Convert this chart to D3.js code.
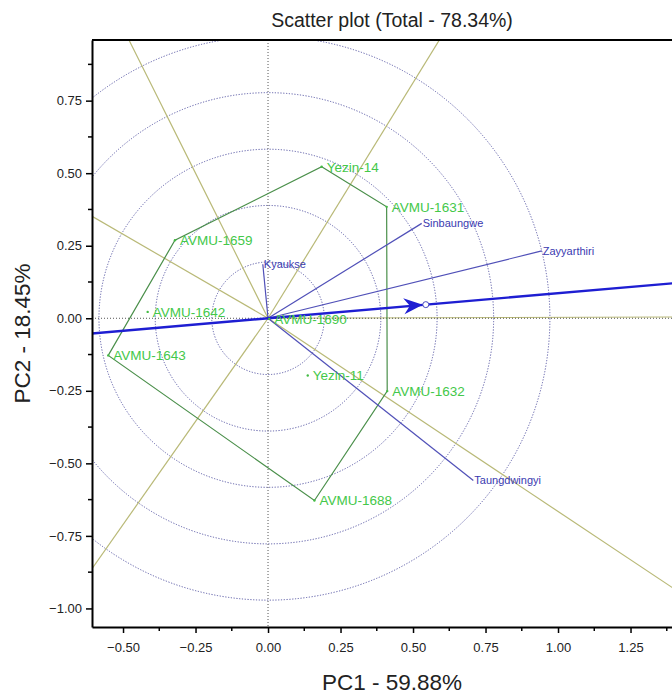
<!DOCTYPE html>
<html><head><meta charset="utf-8">
<script src="https://cdn.jsdelivr.net/npm/d3@7"></script>
<style>body{margin:0;background:#fff}svg{display:block;font-family:Arial,"Liberation Sans",sans-serif}</style>
</head><body><svg id="c" width="672" height="694"></svg>
<script>
// ---- data ----
const genotypes = ["Yezin-14","AVMU-1631","AVMU-1632","AVMU-1688","AVMU-1643","AVMU-1659","AVMU-1642","AVMU-1690","Yezin-11"];
const genoPC1 = [0.185, 0.409, 0.411, 0.160, -0.551, -0.321, -0.415, 0.004, 0.137];
const genoPC2 = [0.522, 0.384, -0.251, -0.628, -0.128, 0.269, 0.022, -0.002, -0.197];
const hullOrder = ["Yezin-14","AVMU-1631","AVMU-1632","AVMU-1688","AVMU-1643","AVMU-1659"];
const environments = ["Kyaukse","Sinbaungwe","Zayyarthiri","Taungdwingyi"];
const envPC1 = [-0.018, 0.530, 0.944, 0.708];
const envPC2 = [0.186, 0.327, 0.232, -0.559];
const aveEnvPC1 = 0.544, aveEnvPC2 = 0.047;
const circleRadii = [0.194, 0.389, 0.583, 0.778, 0.972];
const xTicks = [-0.5, -0.25, 0, 0.25, 0.5, 0.75, 1.0, 1.25];
const yTicks = [-1.0, -0.75, -0.5, -0.25, 0, 0.25, 0.5, 0.75];
const titleText = "Scatter plot (Total - 78.34%)";
const xLabel = "PC1 - 59.88%";
const yLabel = "PC2 - 18.45%";

// ---- layout ----
const svg = d3.select("#c");
const L = 92, T = 40, R = 692, B = 627;
const x = d3.scaleLinear().domain([-0.607, 1.462]).range([L, R]);
const y = d3.scaleLinear().domain([-1.064, 0.959]).range([B, T]);
const fmt = d3.format(".2f");

svg.append("clipPath").attr("id","clip").append("rect")
  .attr("x",L).attr("y",T).attr("width",R-L).attr("height",B-T);
const g = svg.append("g").attr("clip-path","url(#clip)");

// concentric circles
g.selectAll("circle.ring").data(circleRadii).join("circle")
  .attr("class","ring")
  .attr("cx",x(0)).attr("cy",y(0))
  .attr("r",d=>x(d)-x(0))
  .attr("fill","none").attr("stroke","#5a5aa6").attr("stroke-width",1)
  .attr("stroke-dasharray","1.2,1.6");

// sector rays perpendicular to hull sides
const hull = hullOrder.map(n=>{const i=genotypes.indexOf(n);return [genoPC1[i],genoPC2[i]];});
const rays = hull.map((p,i)=>{
  const q = hull[(i+1)%hull.length];
  const dx=q[0]-p[0], dy=q[1]-p[1];
  const t = -(p[0]*dx+p[1]*dy)/(dx*dx+dy*dy);
  const fx=p[0]+t*dx, fy=p[1]+t*dy;
  const len=Math.hypot(fx,fy);
  return [fx/len*5, fy/len*5];
});
g.selectAll("line.ray").data(rays).join("line")
  .attr("x1",x(0)).attr("y1",y(0))
  .attr("x2",d=>x(d[0])).attr("y2",d=>y(d[1]))
  .attr("stroke","#b9b977").attr("stroke-width",1.2);

// dotted zero lines
g.append("line").attr("x1",L).attr("x2",R).attr("y1",y(0)).attr("y2",y(0))
  .attr("stroke","#555").attr("stroke-width",1).attr("stroke-dasharray","1,2");
g.append("line").attr("x1",x(0)).attr("x2",x(0)).attr("y1",T).attr("y2",B)
  .attr("stroke","#555").attr("stroke-width",1).attr("stroke-dasharray","1,2");

// polygon
g.append("path")
  .attr("d", d3.line().x(d=>x(d[0])).y(d=>y(d[1])).curve(d3.curveLinearClosed)(hull))
  .attr("fill","none").attr("stroke","#4a8f4a").attr("stroke-width",1.2);

// environment vectors
environments.forEach((e,i)=>{
  g.append("line").attr("x1",x(0)).attr("y1",y(0))
    .attr("x2",x(envPC1[i])).attr("y2",y(envPC2[i]))
    .attr("stroke","#5050b8").attr("stroke-width",1.2);
  g.append("text").attr("x",x(envPC1[i])+1).attr("y",y(envPC2[i])+4)
    .attr("font-size",11).attr("fill","#3a3ab0").text(e);
});

// average environment axis
const s = 3;
g.append("line").attr("x1",x(-aveEnvPC1*s)).attr("y1",y(-aveEnvPC2*s))
  .attr("x2",x(aveEnvPC1*s)).attr("y2",y(aveEnvPC2*s))
  .attr("stroke","#1e1ed2").attr("stroke-width",2.4);
const ax = x(aveEnvPC1), ay = y(aveEnvPC2);
const ang = Math.atan2(y(aveEnvPC2)-y(0), x(aveEnvPC1)-x(0))*180/Math.PI;
g.append("path")
  .attr("d","M0,0 L-19,-8 L-13,0 L-19,8 Z")
  .attr("transform",`translate(${ax-3},${ay}) rotate(${ang})`)
  .attr("fill","#1e1ed2");
g.append("circle").attr("cx",ax).attr("cy",ay).attr("r",3)
  .attr("fill","#fff").attr("stroke","#4a4ac0").attr("stroke-width",1);

// genotype points & labels
genotypes.forEach((n,i)=>{
  g.append("circle").attr("cx",x(genoPC1[i])).attr("cy",y(genoPC2[i])).attr("r",1.2)
    .attr("fill","#44bb44");
  g.append("text").attr("x",x(genoPC1[i])+5).attr("y",y(genoPC2[i])+5)
    .attr("font-size",13.5).attr("fill","#44c84a").text(n);
});

// axes
const xAxis = svg.append("g").attr("transform",`translate(0,${B})`);
xAxis.call(d3.axisBottom(x).tickValues(xTicks).tickFormat(fmt).tickSize(6).tickSizeOuter(0));
const yAxis = svg.append("g").attr("transform",`translate(${L},0)`);
yAxis.call(d3.axisLeft(y).tickValues(yTicks).tickFormat(fmt).tickSize(6).tickSizeOuter(0));
const xMinor = d3.range(-0.625, 1.5, 0.25).filter(v=>x(v)>=L);
const yMinor = d3.range(-0.875, 0.9, 0.25);
xAxis.selectAll("line.minor").data(xMinor).join("line").attr("class","minor")
  .attr("x1",d=>x(d)).attr("x2",d=>x(d)).attr("y1",0).attr("y2",4).attr("stroke","#000").attr("stroke-width",1.5);
yAxis.selectAll("line.minor").data(yMinor).join("line").attr("class","minor")
  .attr("y1",d=>y(d)).attr("y2",d=>y(d)).attr("x1",0).attr("x2",-4).attr("stroke","#000").attr("stroke-width",1.5);
[xAxis,yAxis].forEach(a=>{
  a.select(".domain").attr("stroke","#000").attr("stroke-width",2);
  a.selectAll(".tick line").attr("stroke","#000").attr("stroke-width",1.5);
  a.selectAll(".tick text").attr("font-size",13).attr("fill","#222").attr("font-family","Arial, 'Liberation Sans', sans-serif");
});
xAxis.selectAll(".tick text").attr("dy","1.25em");
yAxis.selectAll(".tick text").attr("x",-10);
svg.append("line").attr("x1",L).attr("x2",R).attr("y1",T).attr("y2",T).attr("stroke","#000").attr("stroke-width",2);

// titles
svg.append("text").attr("x",(L+R)/2).attr("y",27).attr("text-anchor","middle")
  .attr("font-size",19.5).attr("fill","#222").text(titleText);
svg.append("text").attr("x",(L+R)/2).attr("y",690).attr("text-anchor","middle")
  .attr("font-size",22.5).attr("fill","#222").text(xLabel);
svg.append("text").attr("transform",`translate(30,${(T+B)/2}) rotate(-90)`).attr("text-anchor","middle")
  .attr("font-size",22.5).attr("fill","#222").text(yLabel);
</script></body></html>
